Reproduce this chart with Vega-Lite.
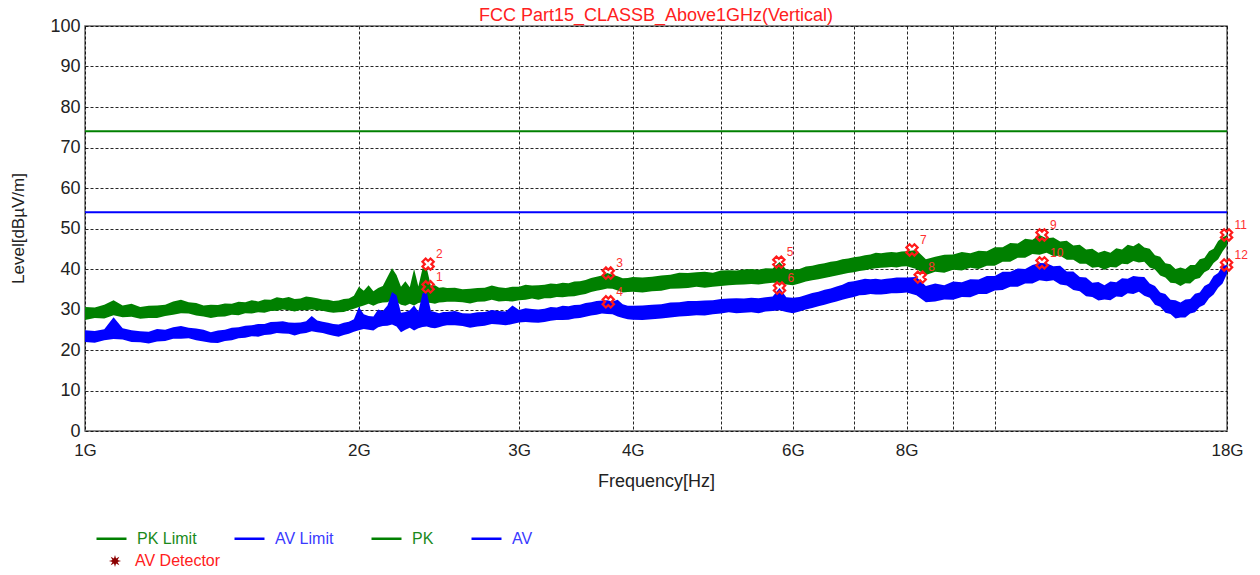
{
  "$schema": "https://vega.github.io/schema/vega-lite/v6.json",
  "width": 1142,
  "height": 405,
  "autosize": {"type": "none"},
  "padding": {"left": 85, "top": 26, "right": 33, "bottom": 144},
  "background": "white",
  "title": {"text": "FCC Part15_CLASSB_Above1GHz(Vertical)", "color": "#ff2020", "fontSize": 18, "fontWeight": "normal", "anchor": "middle", "offset": -8, "font": "Liberation Sans"},
  "config": {
    "font": "Liberation Sans",
    "view": {"stroke": "#666666", "strokeWidth": 1.5},
    "axis": {"gridColor": "#000000", "gridDash": [3, 2], "gridOpacity": 0.85, "gridWidth": 1, "domain": false, "ticks": false, "labelColor": "#222222", "labelFont": "Liberation Sans", "titleFont": "Liberation Sans", "titleFontWeight": "normal", "titleColor": "#222222"},
    "legend": {"labelFont": "Liberation Sans", "labelFontSize": 16}
  },
  "resolve": {"axis": {"x": "independent"}},
  "data": {"values": [
    {"f":1.000,"pl":27.4,"ph":30.6,"al":22.0,"ah":24.9},
    {"f":1.025,"pl":27.9,"ph":30.5,"al":21.8,"ah":24.7},
    {"f":1.050,"pl":27.8,"ph":31.2,"al":22.4,"ah":25.1},
    {"f":1.075,"pl":28.6,"ph":32.3,"al":22.7,"ah":28.1},
    {"f":1.100,"pl":28.1,"ph":31.0,"al":22.6,"ah":25.4},
    {"f":1.125,"pl":28.2,"ph":31.4,"al":22.0,"ah":24.9},
    {"f":1.150,"pl":27.7,"ph":30.6,"al":21.9,"ah":24.6},
    {"f":1.175,"pl":27.9,"ph":30.9,"al":21.6,"ah":24.5},
    {"f":1.200,"pl":27.9,"ph":31.0,"al":22.1,"ah":25.2},
    {"f":1.225,"pl":28.4,"ph":31.2,"al":22.2,"ah":25.0},
    {"f":1.250,"pl":28.7,"ph":32.0,"al":22.8,"ah":25.6},
    {"f":1.275,"pl":29.1,"ph":32.4,"al":22.8,"ah":25.9},
    {"f":1.300,"pl":29.0,"ph":31.8,"al":22.9,"ah":25.5},
    {"f":1.325,"pl":28.5,"ph":31.6,"al":22.4,"ah":25.3},
    {"f":1.350,"pl":28.3,"ph":31.0,"al":22.1,"ah":25.0},
    {"f":1.375,"pl":27.9,"ph":31.2,"al":21.8,"ah":24.4},
    {"f":1.400,"pl":28.2,"ph":31.1,"al":21.7,"ah":24.8},
    {"f":1.425,"pl":28.3,"ph":31.5,"al":22.2,"ah":25.0},
    {"f":1.450,"pl":28.7,"ph":31.4,"al":22.4,"ah":25.5},
    {"f":1.475,"pl":28.6,"ph":31.9,"al":22.9,"ah":25.6},
    {"f":1.500,"pl":29.1,"ph":31.8,"al":23.0,"ah":26.0},
    {"f":1.525,"pl":29.0,"ph":32.3,"al":23.4,"ah":26.1},
    {"f":1.550,"pl":29.3,"ph":32.0,"al":23.3,"ah":26.4},
    {"f":1.575,"pl":29.2,"ph":32.5,"al":23.7,"ah":26.4},
    {"f":1.600,"pl":29.6,"ph":32.4,"al":23.8,"ah":26.9},
    {"f":1.625,"pl":29.7,"ph":33.0,"al":24.2,"ah":27.0},
    {"f":1.650,"pl":30.0,"ph":32.8,"al":24.1,"ah":27.1},
    {"f":1.675,"pl":29.8,"ph":33.1,"al":24.0,"ah":26.8},
    {"f":1.700,"pl":29.5,"ph":32.6,"al":23.6,"ah":26.7},
    {"f":1.725,"pl":29.9,"ph":32.7,"al":24.0,"ah":26.8},
    {"f":1.750,"pl":29.8,"ph":33.2,"al":24.2,"ah":27.1},
    {"f":1.775,"pl":30.0,"ph":33.0,"al":24.6,"ah":28.4},
    {"f":1.800,"pl":29.8,"ph":32.8,"al":24.4,"ah":27.3},
    {"f":1.825,"pl":29.7,"ph":32.5,"al":24.2,"ah":27.0},
    {"f":1.850,"pl":29.4,"ph":32.4,"al":23.8,"ah":26.7},
    {"f":1.875,"pl":29.2,"ph":32.1,"al":23.5,"ah":26.4},
    {"f":1.900,"pl":29.3,"ph":32.2,"al":23.3,"ah":26.3},
    {"f":1.925,"pl":29.4,"ph":32.6,"al":23.7,"ah":26.7},
    {"f":1.950,"pl":29.8,"ph":32.7,"al":24.0,"ah":27.0},
    {"f":1.975,"pl":30.2,"ph":33.4,"al":24.5,"ah":27.6},
    {"f":2.000,"pl":30.6,"ph":35.6,"al":24.9,"ah":30.6},
    {"f":2.025,"pl":31.0,"ph":34.6,"al":25.2,"ah":28.8},
    {"f":2.050,"pl":31.4,"ph":36.0,"al":25.0,"ah":28.4},
    {"f":2.075,"pl":30.9,"ph":34.5,"al":24.8,"ah":28.3},
    {"f":2.100,"pl":31.5,"ph":35.3,"al":25.6,"ah":30.0},
    {"f":2.125,"pl":31.7,"ph":35.8,"al":25.9,"ah":29.6},
    {"f":2.150,"pl":31.8,"ph":38.0,"al":26.0,"ah":31.0},
    {"f":2.175,"pl":32.4,"ph":40.2,"al":26.3,"ah":34.3},
    {"f":2.200,"pl":31.9,"ph":38.5,"al":25.8,"ah":33.5},
    {"f":2.225,"pl":31.2,"ph":35.6,"al":24.4,"ah":29.2},
    {"f":2.250,"pl":30.9,"ph":37.0,"al":25.0,"ah":29.4},
    {"f":2.275,"pl":31.4,"ph":35.5,"al":25.5,"ah":29.8},
    {"f":2.300,"pl":31.0,"ph":40.0,"al":24.8,"ah":31.0},
    {"f":2.325,"pl":31.6,"ph":35.7,"al":25.4,"ah":29.5},
    {"f":2.350,"pl":31.8,"ph":40.2,"al":25.7,"ah":34.0},
    {"f":2.375,"pl":31.7,"ph":40.2,"al":25.8,"ah":34.3},
    {"f":2.400,"pl":31.6,"ph":35.8,"al":25.5,"ah":29.6},
    {"f":2.425,"pl":31.4,"ph":36.0,"al":25.4,"ah":29.4},
    {"f":2.450,"pl":31.7,"ph":35.4,"al":25.6,"ah":29.1},
    {"f":2.475,"pl":31.8,"ph":35.5,"al":25.9,"ah":29.4},
    {"f":2.500,"pl":31.9,"ph":35.3,"al":26.1,"ah":29.4},
    {"f":2.55,"pl":31.9,"ph":35.4,"al":26.1,"ah":29.6},
    {"f":2.60,"pl":31.8,"ph":35.0,"al":25.9,"ah":29.1},
    {"f":2.65,"pl":31.5,"ph":35.1,"al":25.5,"ah":29.0},
    {"f":2.70,"pl":31.9,"ph":35.3,"al":25.8,"ah":29.3},
    {"f":2.75,"pl":32.0,"ph":35.4,"al":26.0,"ah":29.4},
    {"f":2.80,"pl":32.4,"ph":35.9,"al":26.4,"ah":29.9},
    {"f":2.85,"pl":32.0,"ph":35.5,"al":26.3,"ah":29.6},
    {"f":2.90,"pl":32.1,"ph":35.3,"al":26.1,"ah":29.5},
    {"f":2.95,"pl":32.0,"ph":35.6,"al":26.4,"ah":31.0},
    {"f":3.00,"pl":32.3,"ph":35.6,"al":26.8,"ah":29.9},
    {"f":3.05,"pl":32.4,"ph":36.1,"al":26.9,"ah":30.3},
    {"f":3.10,"pl":32.7,"ph":35.9,"al":26.8,"ah":30.1},
    {"f":3.15,"pl":32.4,"ph":36.0,"al":26.7,"ah":30.0},
    {"f":3.20,"pl":32.8,"ph":36.1,"al":26.9,"ah":30.2},
    {"f":3.25,"pl":32.8,"ph":36.4,"al":27.2,"ah":30.6},
    {"f":3.30,"pl":33.1,"ph":36.3,"al":27.4,"ah":30.5},
    {"f":3.35,"pl":33.0,"ph":36.6,"al":27.4,"ah":30.9},
    {"f":3.40,"pl":33.2,"ph":36.5,"al":27.5,"ah":30.8},
    {"f":3.45,"pl":33.3,"ph":36.9,"al":27.8,"ah":31.1},
    {"f":3.50,"pl":33.6,"ph":37.0,"al":27.9,"ah":31.2},
    {"f":3.55,"pl":33.8,"ph":37.3,"al":28.2,"ah":31.6},
    {"f":3.60,"pl":34.3,"ph":37.8,"al":28.5,"ah":31.8},
    {"f":3.65,"pl":34.6,"ph":38.1,"al":28.7,"ah":32.1},
    {"f":3.70,"pl":34.9,"ph":38.4,"al":29.0,"ah":32.2},
    {"f":3.75,"pl":35.2,"ph":39.0,"al":28.9,"ah":32.3},
    {"f":3.80,"pl":35.1,"ph":38.6,"al":28.8,"ah":32.0},
    {"f":3.85,"pl":34.7,"ph":38.2,"al":28.3,"ah":32.4},
    {"f":3.90,"pl":34.2,"ph":37.7,"al":27.9,"ah":31.3},
    {"f":3.95,"pl":34.3,"ph":37.8,"al":27.6,"ah":30.9},
    {"f":4.00,"pl":34.4,"ph":38.0,"al":27.5,"ah":30.9},
    {"f":4.1,"pl":34.2,"ph":37.9,"al":27.4,"ah":31.0},
    {"f":4.2,"pl":34.5,"ph":38.1,"al":27.6,"ah":31.2},
    {"f":4.3,"pl":34.6,"ph":38.4,"al":27.8,"ah":31.3},
    {"f":4.4,"pl":35.1,"ph":38.6,"al":28.0,"ah":31.7},
    {"f":4.5,"pl":35.2,"ph":39.1,"al":28.3,"ah":31.8},
    {"f":4.6,"pl":35.3,"ph":39.0,"al":28.4,"ah":32.1},
    {"f":4.7,"pl":35.6,"ph":39.2,"al":28.6,"ah":32.1},
    {"f":4.8,"pl":35.4,"ph":39.3,"al":28.5,"ah":32.2},
    {"f":4.9,"pl":35.6,"ph":39.1,"al":28.8,"ah":32.3},
    {"f":5.0,"pl":35.8,"ph":39.6,"al":29.0,"ah":32.6},
    {"f":5.1,"pl":36.0,"ph":39.7,"al":29.3,"ah":32.7},
    {"f":5.2,"pl":36.1,"ph":39.6,"al":29.1,"ah":32.8},
    {"f":5.3,"pl":36.2,"ph":39.9,"al":29.2,"ah":32.7},
    {"f":5.4,"pl":36.3,"ph":40.0,"al":29.3,"ah":32.9},
    {"f":5.5,"pl":36.2,"ph":39.8,"al":29.1,"ah":32.8},
    {"f":5.6,"pl":36.4,"ph":40.2,"al":29.5,"ah":33.0},
    {"f":5.7,"pl":36.6,"ph":40.1,"al":29.6,"ah":33.2},
    {"f":5.8,"pl":36.6,"ph":41.7,"al":29.8,"ah":35.3},
    {"f":5.9,"pl":36.2,"ph":39.9,"al":29.4,"ah":33.0},
    {"f":6.0,"pl":36.0,"ph":39.8,"al":29.1,"ah":32.9},
    {"f":6.1,"pl":36.4,"ph":40.0,"al":29.5,"ah":33.1},
    {"f":6.2,"pl":36.9,"ph":40.6,"al":30.0,"ah":33.6},
    {"f":6.3,"pl":37.2,"ph":40.8,"al":30.4,"ah":34.1},
    {"f":6.4,"pl":37.5,"ph":41.2,"al":30.8,"ah":34.4},
    {"f":6.5,"pl":37.8,"ph":41.4,"al":31.2,"ah":34.9},
    {"f":6.6,"pl":38.1,"ph":41.8,"al":31.6,"ah":35.2},
    {"f":6.7,"pl":38.4,"ph":42.0,"al":32.0,"ah":35.7},
    {"f":6.8,"pl":38.7,"ph":42.4,"al":32.4,"ah":36.1},
    {"f":6.9,"pl":39.0,"ph":42.6,"al":32.8,"ah":36.8},
    {"f":7.0,"pl":39.2,"ph":42.9,"al":33.1,"ah":37.0},
    {"f":7.1,"pl":39.5,"ph":43.1,"al":33.5,"ah":37.3},
    {"f":7.2,"pl":39.7,"ph":43.4,"al":33.6,"ah":37.6},
    {"f":7.3,"pl":40.0,"ph":43.6,"al":33.8,"ah":37.5},
    {"f":7.4,"pl":40.2,"ph":44.0,"al":33.7,"ah":37.6},
    {"f":7.5,"pl":40.3,"ph":43.9,"al":33.7,"ah":37.4},
    {"f":7.6,"pl":40.4,"ph":44.1,"al":33.8,"ah":37.6},
    {"f":7.7,"pl":40.5,"ph":44.2,"al":34.0,"ah":37.7},
    {"f":7.8,"pl":40.4,"ph":44.1,"al":34.0,"ah":37.9},
    {"f":7.9,"pl":40.6,"ph":44.3,"al":34.1,"ah":37.9},
    {"f":8.0,"pl":40.7,"ph":44.4,"al":34.2,"ah":37.9},
    {"f":8.2,"pl":40.0,"ph":44.7,"al":33.5,"ah":38.0},
    {"f":8.4,"pl":38.5,"ph":42.4,"al":31.8,"ah":35.8},
    {"f":8.6,"pl":39.3,"ph":43.0,"al":32.0,"ah":36.4},
    {"f":8.8,"pl":39.1,"ph":43.5,"al":32.5,"ah":36.0},
    {"f":9.0,"pl":39.8,"ph":43.6,"al":32.4,"ah":36.9},
    {"f":9.2,"pl":39.6,"ph":44.2,"al":33.1,"ah":36.7},
    {"f":9.4,"pl":40.3,"ph":43.9,"al":33.0,"ah":37.5},
    {"f":9.6,"pl":40.0,"ph":44.5,"al":33.8,"ah":37.4},
    {"f":9.8,"pl":40.8,"ph":44.4,"al":33.8,"ah":38.3},
    {"f":10.0,"pl":40.8,"ph":45.4,"al":34.7,"ah":38.3},
    {"f":10.2,"pl":41.8,"ph":45.4,"al":34.8,"ah":39.3},
    {"f":10.4,"pl":41.8,"ph":46.4,"al":35.6,"ah":39.3},
    {"f":10.6,"pl":42.8,"ph":46.3,"al":35.6,"ah":40.1},
    {"f":10.8,"pl":42.8,"ph":47.5,"al":36.4,"ah":40.0},
    {"f":11.0,"pl":43.7,"ph":47.2,"al":36.4,"ah":41.0},
    {"f":11.2,"pl":43.5,"ph":48.4,"al":37.2,"ah":41.5},
    {"f":11.4,"pl":44.0,"ph":47.6,"al":37.0,"ah":41.4},
    {"f":11.6,"pl":43.2,"ph":47.8,"al":37.2,"ah":40.7},
    {"f":11.8,"pl":43.3,"ph":46.8,"al":36.2,"ah":40.8},
    {"f":12.0,"pl":42.3,"ph":47.0,"al":35.9,"ah":39.4},
    {"f":12.2,"pl":42.3,"ph":45.8,"al":34.8,"ah":39.4},
    {"f":12.4,"pl":41.3,"ph":46.0,"al":34.5,"ah":38.0},
    {"f":12.6,"pl":41.3,"ph":44.8,"al":33.3,"ah":37.9},
    {"f":12.8,"pl":40.3,"ph":45.0,"al":33.1,"ah":36.6},
    {"f":13.0,"pl":40.5,"ph":44.0,"al":32.2,"ah":36.8},
    {"f":13.2,"pl":39.8,"ph":44.5,"al":32.5,"ah":36.0},
    {"f":13.4,"pl":40.5,"ph":44.0,"al":32.3,"ah":36.9},
    {"f":13.6,"pl":40.4,"ph":45.1,"al":33.2,"ah":36.7},
    {"f":13.8,"pl":41.3,"ph":44.8,"al":33.1,"ah":37.7},
    {"f":14.0,"pl":41.2,"ph":46.0,"al":34.0,"ah":37.6},
    {"f":14.2,"pl":42.0,"ph":45.6,"al":33.8,"ah":38.3},
    {"f":14.4,"pl":41.6,"ph":46.4,"al":34.4,"ah":38.1},
    {"f":14.6,"pl":41.8,"ph":45.3,"al":33.4,"ah":38.0},
    {"f":14.8,"pl":40.4,"ph":45.0,"al":32.9,"ah":36.4},
    {"f":15.0,"pl":39.9,"ph":43.4,"al":31.2,"ah":35.8},
    {"f":15.2,"pl":38.4,"ph":43.0,"al":30.7,"ah":34.2},
    {"f":15.4,"pl":37.9,"ph":41.4,"al":29.2,"ah":33.8},
    {"f":15.6,"pl":36.6,"ph":41.2,"al":28.9,"ah":32.4},
    {"f":15.8,"pl":36.5,"ph":40.0,"al":27.8,"ah":32.3},
    {"f":16.0,"pl":35.8,"ph":40.4,"al":28.0,"ah":31.7},
    {"f":16.2,"pl":36.5,"ph":40.0,"al":28.0,"ah":32.5},
    {"f":16.4,"pl":36.4,"ph":41.0,"al":29.0,"ah":32.6},
    {"f":16.6,"pl":37.5,"ph":41.0,"al":29.3,"ah":33.9},
    {"f":16.8,"pl":37.8,"ph":42.4,"al":30.6,"ah":34.2},
    {"f":17.0,"pl":39.2,"ph":42.7,"al":31.2,"ah":35.8},
    {"f":17.2,"pl":39.8,"ph":44.4,"al":32.8,"ah":36.4},
    {"f":17.4,"pl":41.5,"ph":45.0,"al":33.7,"ah":38.3},
    {"f":17.6,"pl":42.4,"ph":46.9,"al":35.4,"ah":39.0},
    {"f":17.8,"pl":44.3,"ph":47.8,"al":36.4,"ah":40.8},
    {"f":18.0,"pl":45.8,"ph":48.4,"al":38.8,"ah":41.0}
  ]},
  "layer": [
    {
      "mark": {"type": "area", "color": "#008000", "strokeWidth": 1, "opacity": 1},
      "encoding": {
        "x": {"field": "f", "type": "quantitative", "scale": {"type": "log", "domain": [1, 18], "nice": false},
          "axis": {"orient": "bottom", "title": "Frequency[Hz]", "titleFontSize": 18, "titlePadding": 14, "labelFontSize": 17, "labelPadding": 11, "values": [1, 2, 3, 4, 5, 6, 7, 8, 9, 10, 18],
            "labelExpr": "(datum.value == 5 || datum.value == 7 || datum.value == 9 || datum.value == 10) ? '' : datum.value + 'G'", "grid": true, "labelFlush": false}},
        "y": {"field": "pl", "type": "quantitative", "scale": {"domain": [0, 100], "nice": false, "zero": false},
          "axis": {"title": "Level[dBµV/m]", "titleFontSize": 17, "titleX": -58, "titleY": 202, "labelFontSize": 18, "labelPadding": 5, "values": [0, 10, 20, 30, 40, 50, 60, 70, 80, 90, 100], "grid": true}},
        "y2": {"field": "ph"},
        "color": {"datum": "PK", "type": "nominal", "title": null,
          "scale": {"domain": ["PK Limit", "AV Limit", "PK", "AV"], "range": ["#008000", "#0000ff", "#008000", "#0000ff"]},
          "legend": {"title": null, "orient": "none", "legendX": 10, "legendY": 496, "direction": "horizontal", "columns": 4, "columnPadding": 32,
            "symbolType": "stroke", "symbolSize": 900, "symbolStrokeWidth": 2.5, "labelFontSize": 16, "labelOffset": 9,
            "labelColor": {"expr": "(datum.value == 'PK Limit' || datum.value == 'PK') ? '#1a8a1a' : '#3a3aff'"}}}
      }
    },
    {
      "mark": {"type": "area", "color": "#0000ff", "strokeWidth": 1, "opacity": 1},
      "encoding": {
        "x": {"field": "f", "type": "quantitative", "axis": null},
        "y": {"field": "al", "type": "quantitative"},
        "y2": {"field": "ah"},
        "color": {"datum": "AV", "type": "nominal", "title": null}
      }
    },
    {
      "data": {"values": [{"s": "PK Limit", "lvl": 74}, {"s": "AV Limit", "lvl": 54}]},
      "mark": {"type": "rule", "strokeWidth": 2},
      "encoding": {
        "y": {"field": "lvl", "type": "quantitative"},
        "color": {"field": "s", "type": "nominal", "title": null,
          "legend": {"title": null, "orient": "none", "legendX": 10, "legendY": 496, "direction": "horizontal", "columns": 4, "columnPadding": 32,
            "symbolType": "stroke", "symbolSize": 900, "symbolStrokeWidth": 2.5, "labelFontSize": 16, "labelOffset": 9,
            "labelColor": {"expr": "(datum.value == 'PK Limit' || datum.value == 'PK') ? '#1a8a1a' : '#3a3aff'"}}}
      }
    },
    {
      "data": {"values": []},
      "mark": {"type": "point", "filled": true, "color": "#8b0000", "opacity": 1},
      "encoding": {
        "shape": {"datum": "AV Detector", "type": "nominal", "title": null,
          "scale": {"range": ["M1,0L0.416,0.172L0.707,0.707L0.172,0.416L0,1L-0.172,0.416L-0.707,0.707L-0.416,0.172L-1,0L-0.416,-0.172L-0.707,-0.707L-0.172,-0.416L0,-1L0.172,-0.416L0.707,-0.707L0.416,-0.172Z"]},
          "legend": {"title": null, "orient": "none", "legendX": 22, "legendY": 527, "symbolSize": 150, "labelFontSize": 16, "labelOffset": 12, "labelColor": "#ff2020", "symbolFillColor": "#8b0000", "symbolStrokeColor": "#8b0000"}}
      }
    },
    {
      "data": {"values": [
        {"n": "1", "f": 2.383, "v": 35.6},
        {"n": "2", "f": 2.383, "v": 41.2},
        {"n": "3", "f": 3.76, "v": 39.0},
        {"n": "4", "f": 3.76, "v": 31.9},
        {"n": "5", "f": 5.79, "v": 41.7},
        {"n": "6", "f": 5.80, "v": 35.3},
        {"n": "7", "f": 8.11, "v": 44.7},
        {"n": "8", "f": 8.28, "v": 38.0},
        {"n": "9", "f": 11.27, "v": 48.4},
        {"n": "10", "f": 11.27, "v": 41.5},
        {"n": "11", "f": 17.98, "v": 48.4},
        {"n": "12", "f": 17.98, "v": 41.0}
      ]},
      "layer": [
        {
          "mark": {"type": "point", "shape": "cross", "filled": false, "color": "#ff1a1a", "strokeWidth": 2.2, "angle": 45, "size": 130, "opacity": 1},
          "encoding": {
            "x": {"field": "f", "type": "quantitative",
              "axis": {"orient": "top", "labels": false, "grid": false, "domain": false, "ticks": true, "tickSize": 4, "tickColor": "#555555", "title": null, "values": [2, 3, 4, 5, 6, 7, 8, 9, 10]}},
            "y": {"field": "v", "type": "quantitative"}
          }
        },
        {
          "mark": {"type": "text", "color": "#ff3030", "fontSize": 12, "align": "left", "baseline": "middle", "dx": 8, "dy": -10},
          "encoding": {
            "x": {"field": "f", "type": "quantitative", "axis": null},
            "y": {"field": "v", "type": "quantitative"},
            "text": {"field": "n"}
          }
        }
      ]
    }
  ]
}
